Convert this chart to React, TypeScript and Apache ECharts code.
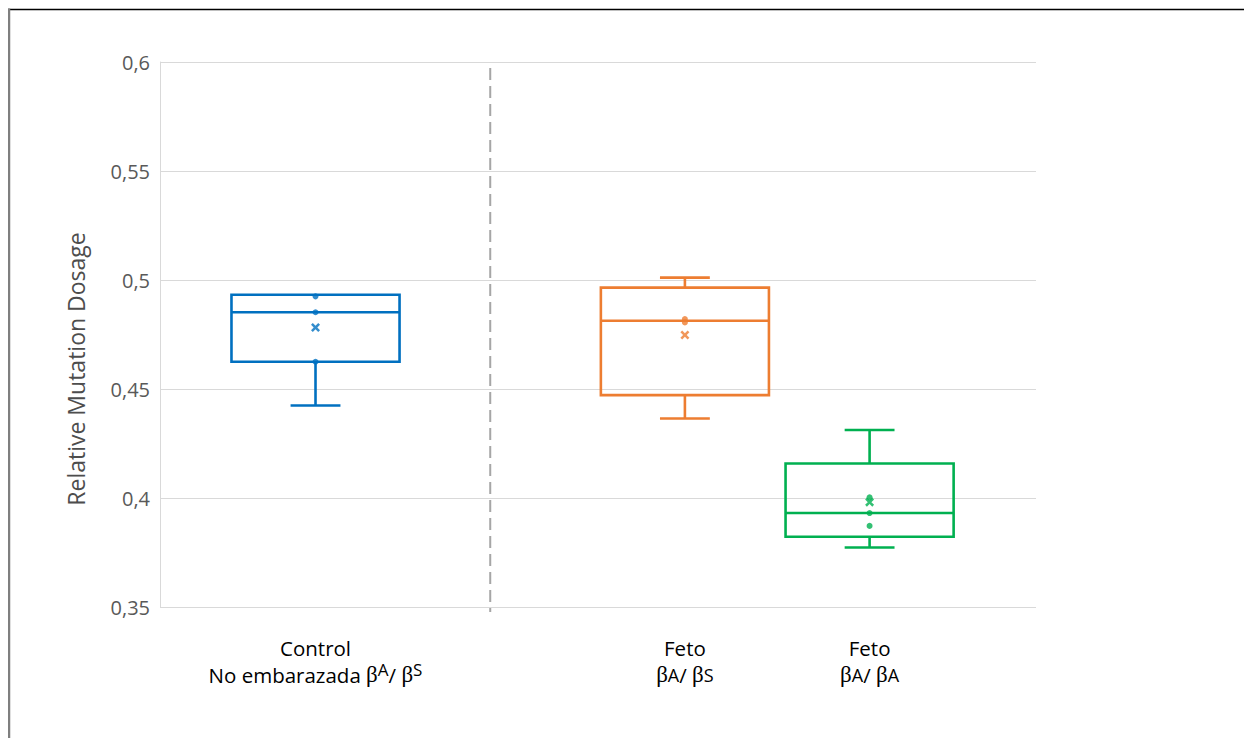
import React, { useEffect, useRef } from "react";
import * as echarts from "echarts";

// ---- data ----
const groupTitles = ["Control", "Feto", "Feto"];
const groupSubtitles = ["No embarazada ", "", ""];
const firstAllele = ["A", "A", "A"];
const secondAllele = ["S", "S", "A"];
const alleleRaised = [true, false, false];
const groupPositions = [0, 2, 3];
const whiskerLow = [0.4424, 0.4365, 0.3773];
const quartile1 = [0.4625, 0.4472, 0.3822];
const medians = [0.4852, 0.4813, 0.3931];
const quartile3 = [0.4932, 0.4965, 0.4158];
const whiskerHigh = [0.4932, 0.5011, 0.4312];
const means = [0.4782, 0.4748, 0.3981];
const innerPoints = [
  [0.4925, 0.4852, 0.4625],
  [0.4821, 0.4805],
  [0.4003, 0.3931, 0.3872],
];
const groupColors = ["#0070C0", "#ED7D31", "#00B050"];
const yAxisTitle = "Relative Mutation Dosage";
const dividerPosition = 0.946;
const yMin = 0.35;
const yMax = 0.6;
const yStep = 0.05;
const xMin = -0.842;
const xMax = 3.901;
const boxWidth = 0.91;
const capWidth = 0.27;

const crossPath =
  "path://M0,2 L2,0 L5,3 L8,0 L10,2 L7,5 L10,8 L8,10 L5,7 L2,10 L0,8 L3,5 Z";

export default function App() {
  const ref = useRef<HTMLDivElement>(null);

  useEffect(() => {
    if (!ref.current) return;
    const chart = echarts.init(ref.current, undefined, { renderer: "svg" });

    const boxData = groupPositions.map((p, i) => [
      p,
      whiskerLow[i],
      quartile1[i],
      medians[i],
      quartile3[i],
      whiskerHigh[i],
    ]);

    const pointData: any[] = [];
    innerPoints.forEach((arr, i) =>
      arr.forEach((v) =>
        pointData.push({ value: [groupPositions[i], v], itemStyle: { color: groupColors[i] } })
      )
    );
    const meanData = means.map((m, i) => ({
      value: [groupPositions[i], m],
      itemStyle: { color: groupColors[i] },
    }));

    const labelFor = (v: number) => {
      const i = groupPositions.findIndex((p) => Math.abs(p - v) < 1e-6);
      if (i < 0) return "";
      const sup = alleleRaised[i] ? "s" : "r";
      return (
        "{t|" + groupTitles[i] + "}\n" +
        (groupSubtitles[i] ? "{t|" + groupSubtitles[i] + "}" : "") +
        "{b|β}{" + sup + "|" + firstAllele[i] + "}{t|/ }{b|β}{" + sup + "|" + secondAllele[i] + "}"
      );
    };

    const option: any = {
      animation: false,
      backgroundColor: "#ffffff",
      grid: { left: 152, top: 54, right: 216, bottom: 131 },
      xAxis: {
        type: "value",
        min: xMin,
        max: xMax,
        axisLine: { show: false },
        axisTick: { show: false },
        splitLine: { show: false },
        axisLabel: {
          customValues: groupPositions,
          formatter: (v: number) => labelFor(v),
          margin: 27,
          rich: {
            t: { fontFamily: "Open Sans", fontSize: 20.5, color: "#000000", lineHeight: 27 },
            b: { fontFamily: "Liberation Serif", fontSize: 23, color: "#000000", lineHeight: 27 },
            s: {
              fontFamily: "Open Sans",
              fontSize: 17,
              color: "#000000",
              lineHeight: 2,
              verticalAlign: "top",
            },
            r: {
              fontFamily: "Open Sans",
              fontSize: 18,
              color: "#000000",
              lineHeight: 27,
            },
          },
        },
      },
      yAxis: {
        type: "value",
        min: yMin,
        max: yMax,
        interval: yStep,
        axisLine: { show: true, onZero: false, lineStyle: { color: "#d9d9d9", width: 1 } },
        axisTick: { show: false },
        splitLine: { show: true, lineStyle: { color: "#d9d9d9", width: 1 } },
        axisLabel: {
          fontFamily: "Open Sans",
          fontSize: 20,
          color: "#595959",
          margin: 10,
          formatter: (v: number) => String(+v.toFixed(2)).replace(".", ","),
        },
      },
      graphic: [
        {
          type: "line",
          shape: { x1: 0, y1: 1.5, x2: 1244, y2: 1.5 },
          style: { stroke: "#000000", lineWidth: 1.5 },
          z: 100,
        },
        {
          type: "line",
          shape: { x1: 1, y1: 0.5, x2: 1, y2: 730 },
          style: { stroke: "#7f7f7f", lineWidth: 2.5 },
          z: 100,
        },
        {
          type: "text",
          x: 68,
          y: 361,
          rotation: Math.PI / 2,
          style: {
            text: yAxisTitle,
            fontFamily: "Open Sans",
            fontSize: 23,
            fill: "#4d4d4d",
            align: "center",
            verticalAlign: "middle",
          },
        },
      ],
      series: [
        {
          type: "custom",
          data: [[dividerPosition, yMax, yMin]],
          encode: { x: 0, y: [1, 2] },
          silent: true,
          renderItem: (_params: any, api: any) => {
            const top = api.coord([api.value(0), api.value(1)]);
            const bot = api.coord([api.value(0), api.value(2)]);
            return {
              type: "line",
              shape: { x1: top[0], y1: top[1] + 6, x2: bot[0], y2: bot[1] + 5 },
              style: { stroke: "#a6a6a6", lineWidth: 2, lineDash: [12, 6] },
            };
          },
        },
        {
          type: "custom",
          data: boxData,
          encode: { x: 0, y: [1, 2, 3, 4, 5] },
          z: 3,
          renderItem: (params: any, api: any) => {
            const x = api.value(0);
            const lo = api.value(1);
            const q1 = api.value(2);
            const med = api.value(3);
            const q3 = api.value(4);
            const hi = api.value(5);
            const color = groupColors[params.dataIndex];
            const halfW = api.size([boxWidth, 0])[0] / 2;
            const capHalf = api.size([capWidth, 0])[0] / 2;
            const pLo = api.coord([x, lo]);
            const pQ1 = api.coord([x, q1]);
            const pMed = api.coord([x, med]);
            const pQ3 = api.coord([x, q3]);
            const pHi = api.coord([x, hi]);
            const cx = pLo[0];
            const st = { stroke: color, lineWidth: 2.6, fill: "none" };
            const children: any[] = [
              {
                type: "rect",
                shape: { x: cx - halfW, y: pQ3[1], width: 2 * halfW, height: pQ1[1] - pQ3[1] },
                style: st,
              },
              {
                type: "line",
                shape: { x1: cx - halfW, y1: pMed[1], x2: cx + halfW, y2: pMed[1] },
                style: st,
              },
            ];
            if (lo < q1) {
              children.push(
                { type: "line", shape: { x1: cx, y1: pQ1[1], x2: cx, y2: pLo[1] }, style: st },
                { type: "line", shape: { x1: cx - capHalf, y1: pLo[1], x2: cx + capHalf, y2: pLo[1] }, style: st }
              );
            }
            if (hi > q3) {
              children.push(
                { type: "line", shape: { x1: cx, y1: pQ3[1], x2: cx, y2: pHi[1] }, style: st },
                { type: "line", shape: { x1: cx - capHalf, y1: pHi[1], x2: cx + capHalf, y2: pHi[1] }, style: st }
              );
            }
            return { type: "group", children };
          },
        },
        {
          type: "scatter",
          data: pointData,
          symbol: "circle",
          symbolSize: 6,
          z: 4,
        },
        {
          type: "scatter",
          data: meanData,
          symbol: crossPath,
          symbolSize: 9,
          z: 5,
        },
      ],
    };

    chart.setOption(option);
    return () => chart.dispose();
  }, []);

  return <div ref={ref} style={{ width: 1244, height: 730 }} />;
}
